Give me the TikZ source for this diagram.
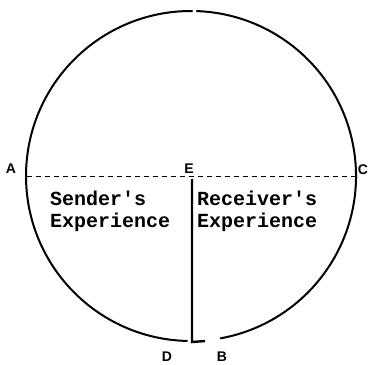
\documentclass[tikz,border=0pt]{standalone}
\usepackage{fontspec}
\setmainfont{Liberation Sans}
\newfontfamily\typefont{Liberation Mono}
\usetikzlibrary{calc}

\begin{document}
\begin{tikzpicture}[x=1pt,y=-1pt,
 rim/.style={line width=2pt,line cap=round},
 wall/.style={line width=2.4pt},
 split/.style={line width=0.9pt,dash pattern=on 5pt off 4pt},
 pt/.style={font=\fontsize{14}{16}\selectfont\bfseries,inner sep=0pt},
 lab/.style={font=\fontsize{20}{22}\selectfont\typefont\bfseries,inner sep=0pt,anchor=base west}]
\useasboundingbox (0,0) rectangle (371,364);
\coordinate (o) at (191,176);
\coordinate (a) at (26.5,176);
\coordinate (c) at (355.5,176);
\coordinate (e) at (192,179);
\coordinate (d) at (192,342);
\coordinate (t) at (205,341);
% outer circle, broken at top and bottom (y runs down)
\draw[rim] ($(o)+(79.6:165)$) arc[start angle=79.6,end angle=-88,radius=165];
\draw[rim] ($(o)+(-89.6:165)$) arc[start angle=270.4,end angle=91.4,radius=165];
\draw[split] (a) -- (c);
\draw[wall] (e) -- (d) -- (t);
\node[pt] (la) at (11,169) {A};
\node[pt] (le) at (189,169) {E};
\node[pt] (lc) at (363,170) {C};
\node[pt] (ld) at (167,357) {D};
\node[pt] (lb) at (222,357) {B};
\node[lab] (snd) at (50,205) {Sender's};
\node[lab] (sex) at (50,227) {Experience};
\node[lab] (rcv) at (197,205) {Receiver's};
\node[lab] (rex) at (197,227) {Experience};
\end{tikzpicture}
\end{document}
